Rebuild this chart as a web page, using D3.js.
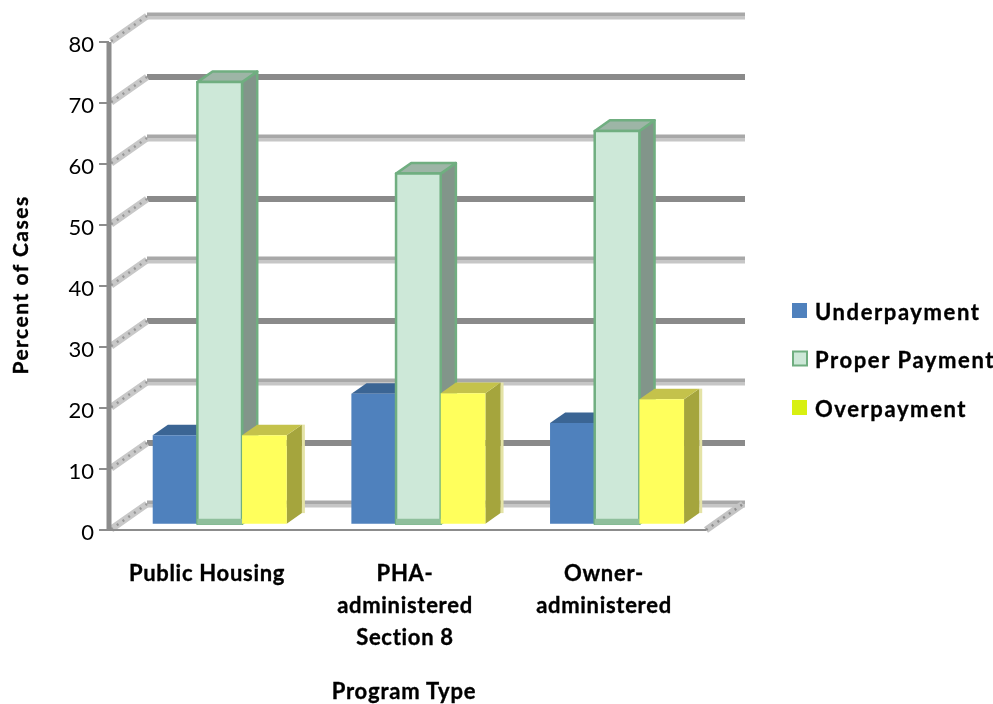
<!DOCTYPE html>
<html><head><meta charset="utf-8">
<script src="https://cdn.jsdelivr.net/npm/d3@7"></script>
<style>html,body{margin:0;background:#fff}svg{display:block}text{font-family:Lato,sans-serif;fill:#000}</style>
</head><body><div id="c"></div>
<script>
const categories = ["Public Housing", "PHA-administered Section 8", "Owner-administered"];
const categoryLines = [["Public Housing"], ["PHA-", "administered", "Section 8"], ["Owner-", "administered"]];
const seriesNames = ["Underpayment", "Proper Payment", "Overpayment"];
const underpayment = [14.5, 21.3, 16.5];
const properPayment = [72.4, 57.4, 64.4];
const overpayment = [14.5, 21.4, 20.4];
const yTicks = [0, 10, 20, 30, 40, 50, 60, 70, 80];
const seriesValues = [underpayment, properPayment, overpayment];

const fills = [
  {front:"#4f81bd", top:"#3b6594", side:"#3b6594", stroke:"none"},
  {front:"#cde8d8", top:"#9db5a6", side:"#82958a", stroke:"#6fae80"},
  {front:"#ffff5c", top:"#c4c24c", side:"#a5a53c", stroke:"none"}
];
const legendFills = ["#4f81bd", "#cde8d8", "#d8f011"];

const W = 993, H = 704;
const svg = d3.select("#c").append("svg").attr("width", W).attr("height", H);
const defs = svg.append("defs");
defs.append("filter").attr("id","soft").append("feGaussianBlur").attr("stdDeviation",0.6);
defs.append("filter").attr("id","softT").append("feGaussianBlur").attr("stdDeviation",0.3);

const y = d3.scaleLinear().domain([0, 80]).range([530, 42]);
const x = d3.scaleBand().domain(categories).range([110, 706]).paddingInner(0).paddingOuter(0);
const series = d3.scaleBand().domain(seriesNames).range([0, 134]).padding(0);
// oblique depth projection: 0 = front plane, 1 = back wall
const depthX = d3.scaleLinear().domain([0, 1]).range([0, 37]);
const depthY = d3.scaleLinear().domain([0, 1]).range([0, -26]);
const barNear = 0.24, barFar = 0.65;
const groupInset = (x.bandwidth() - series.range()[1]) / 2 + 1.5;

const pt = (cx, v, d) => [cx + depthX(d), y(v) + depthY(d)];
const plot = svg.append("g").attr("filter", "url(#soft)");

// back-wall gridlines, alternating tone
yTicks.forEach((t) => {
  const dark = t % 20 === 10;
  const [x0, y0] = pt(110, t, 1), [x1] = pt(708, t, 1);
  if (dark) {
    plot.append("line").attr("x1", x0).attr("x2", x1).attr("y1", y0).attr("y2", y0)
      .attr("stroke", "#8a8a8a").attr("stroke-width", 6);
  } else {
    plot.append("line").attr("x1", x0).attr("x2", x1).attr("y1", y0 - 1.7).attr("y2", y0 - 1.7)
      .attr("stroke", "#a8a8a8").attr("stroke-width", 3.4);
    plot.append("line").attr("x1", x0).attr("x2", x1).attr("y1", y0 + 1.7).attr("y2", y0 + 1.7)
      .attr("stroke", "#c6c6c6").attr("stroke-width", 3.4);
  }
  // side wall diagonal
  const a = pt(110, t, 0.03), b = pt(110, t, 1);
  plot.append("line").attr("x1", a[0]).attr("y1", a[1]).attr("x2", b[0]).attr("y2", b[1])
    .attr("stroke", "#c8c8c8").attr("stroke-width", 7);
  plot.append("line").attr("x1", a[0]).attr("y1", a[1]).attr("x2", b[0]).attr("y2", b[1])
    .attr("stroke", "#979797").attr("stroke-width", 2.5).attr("stroke-dasharray", "2 5");
});
// floor edge at right
{
  const a = pt(706, 0, 0), b = pt(706, 0, 1);
  plot.append("line").attr("x1", a[0]).attr("y1", a[1]).attr("x2", b[0]).attr("y2", b[1])
    .attr("stroke", "#c4c4c4").attr("stroke-width", 7);
  plot.append("line").attr("x1", a[0]).attr("y1", a[1]).attr("x2", b[0]).attr("y2", b[1])
    .attr("stroke", "#8f8f8f").attr("stroke-width", 2.5).attr("stroke-dasharray", "2 5");
}
// front axes
plot.append("line").attr("x1", 109).attr("x2", 109).attr("y1", y(80)).attr("y2", y(0) + 1)
  .attr("stroke", "#8c8c8c").attr("stroke-width", 5);
plot.append("line").attr("x1", 99).attr("x2", 706).attr("y1", y(0)).attr("y2", y(0))
  .attr("stroke", "#8c8c8c").attr("stroke-width", 2);
yTicks.forEach(t => {
  plot.append("line").attr("x1", 99).attr("x2", 109).attr("y1", y(t)).attr("y2", y(t))
    .attr("stroke", "#8c8c8c").attr("stroke-width", 2);
});

// bars
categories.forEach((c, ci) => {
  seriesNames.forEach((s, si) => {
    const v = seriesValues[si][ci], f = fills[si];
    const xa = x(c) + groupInset + series(s), xb = xa + series.bandwidth();
    const poly = (pts, fill, stroke) => plot.append("polygon")
      .attr("points", pts.map(p => p.join(",")).join(" "))
      .attr("fill", fill).attr("stroke", stroke).attr("stroke-width", stroke === "none" ? 0 : 2.5)
      .attr("stroke-linejoin", "round");
    if (si === 2) {
      // pale fringe along the yellow bar's far edge
      poly([pt(xb,0,barFar), pt(xb+3,0,barFar), pt(xb+3,v,barFar), pt(xb,v,barFar)], "#e4e3a6", "none");
    }
    poly([pt(xb,0,barNear), pt(xb,0,barFar), pt(xb,v,barFar), pt(xb,v,barNear)], f.side, f.stroke);
    poly([pt(xa,v,barNear), pt(xb,v,barNear), pt(xb,v,barFar), pt(xa,v,barFar)], f.top, f.stroke);
    poly([pt(xa,0,barNear), pt(xb,0,barNear), pt(xb,v,barNear), pt(xa,v,barNear)], f.front, f.stroke);
    if (si === 1) {
      const [bx0, by0] = pt(xa, 0, barNear), [bx1] = pt(xb, 0, barNear);
      plot.append("rect").attr("x", bx0).attr("y", by0 - 5).attr("width", bx1 - bx0).attr("height", 6)
        .attr("fill", "#8fbf9c");
    }
  });
});

const txt = svg.append("g").attr("filter", "url(#softT)");
// y tick labels
yTicks.forEach(t => {
  txt.append("text").attr("x", 94).attr("y", y(t) + 1).attr("text-anchor", "end")
    .attr("dominant-baseline", "central").attr("font-size", 22).text(t);
});
// y title
const bold = sel => sel.attr("font-weight", 700).attr("stroke", "#000").attr("stroke-width", 0.35);
bold(txt.append("text").attr("transform", "translate(19,285) rotate(-90)").attr("text-anchor", "middle")
  .attr("dominant-baseline", "central").attr("font-size", 21).attr("letter-spacing", 1.5)).text("Percent of Cases");
// category labels
const labelX = [207, 405, 604];
categoryLines.forEach((lines, i) => {
  lines.forEach((l, j) => {
    bold(txt.append("text").attr("x", labelX[i]).attr("y", 581 + j * 32).attr("text-anchor", "middle")
      .attr("font-size", 22).attr("letter-spacing", 0.7)).text(l);
  });
});
bold(txt.append("text").attr("x", 404).attr("y", 699).attr("text-anchor", "middle")
  .attr("font-size", 22).attr("letter-spacing", 0.8)).text("Program Type");
// legend
const legendY = d3.scalePoint().domain(seriesNames).range([311, 408]);
seriesNames.forEach((s, i) => {
  const ly = legendY(s);
  svg.append("rect").attr("x", i === 1 ? 793 : 792).attr("y", ly - 8).attr("width", i === 1 ? 14 : 15).attr("height", i === 1 ? 14 : 15)
    .attr("fill", legendFills[i]).attr("stroke", i === 1 ? "#6fae80" : "none").attr("stroke-width", i === 1 ? 2 : 0);
  bold(txt.append("text").attr("x", 815).attr("y", ly).attr("dominant-baseline", "central")
    .attr("font-size", 22).attr("letter-spacing", 1.6)).text(s);
});
</script></body></html>
